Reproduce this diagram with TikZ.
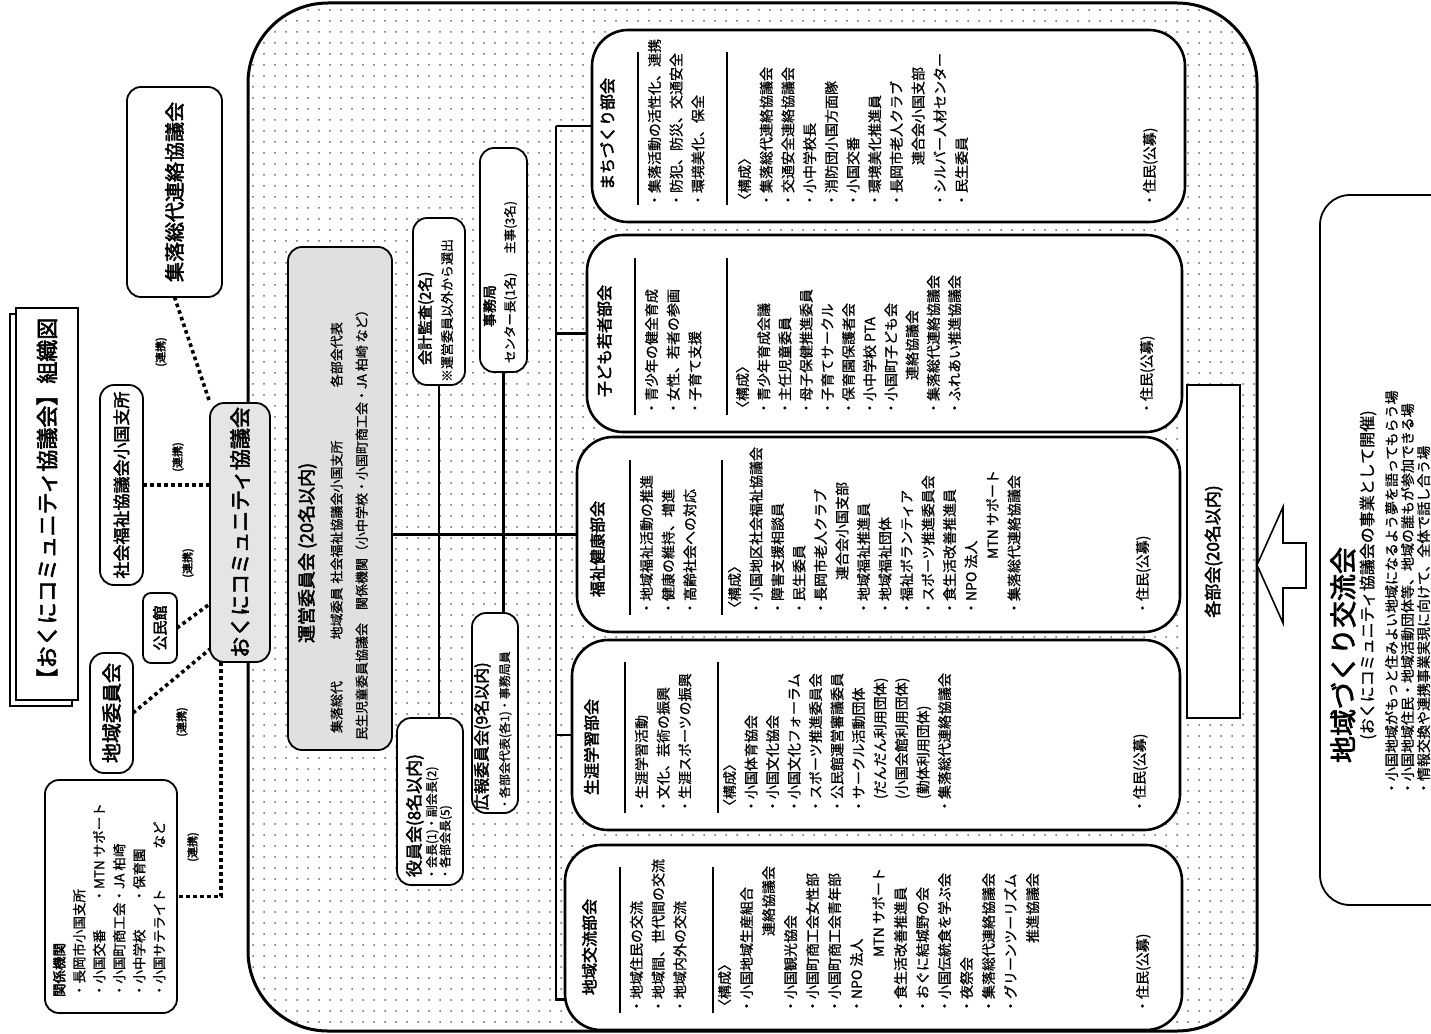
\documentclass[tikz,border=0pt]{standalone}
\usepackage{fontspec}
\setmainfont[FakeBold=0.9]{Noto Sans CJK JP}
\newfontfamily\heavy[FakeBold=2.6]{Noto Sans CJK JP}
\usetikzlibrary{patterns.meta,calc}

\newcommand{\bodyfont}{\fontsize{14}{21.7}\selectfont}
\tikzstyle{box}=[draw, line width=1.8pt, rounded corners=14pt, fill=white, inner sep=0, outer sep=0]
\tikzstyle{bukai}=[box, line width=2.6pt, rounded corners=36pt]
\tikzstyle{vtext}=[rotate=90, inner sep=0, outer sep=0, align=left, anchor=north west]
\tikzstyle{body}=[vtext, font=\bodyfont]
\tikzstyle{butitle}=[vtext, font=\fontsize{16}{20}\heavy]
\tikzstyle{vbox}=[box, rotate=90, align=center, font=\fontsize{20}{24}\heavy]
\tikzstyle{rlabel}=[vtext, anchor=center, font=\fontsize{11}{13}\heavy]
\tikzstyle{note}=[vtext, font=\fontsize{13}{15}\selectfont]
\tikzstyle{renkei}=[line width=3.6pt, dash pattern=on 3.6pt off 3.4pt]
\tikzstyle{tree}=[line width=2.4pt]
\tikzstyle{sepline}=[line width=1.4pt]

\begin{document}
\begin{tikzpicture}[x=1pt, y=-1pt]
\useasboundingbox (0,0) rectangle (1431,1033);
\fill[white] (0,0) rectangle (1431,1033);

% community area
\draw[line width=3pt, rounded corners=80pt, pattern={Dots[distance=11pt, radius=1pt]}, pattern color=black!60] (248,3) rectangle (1257,1031);

% title
\draw[line width=1.6pt, fill=white] (10,314) rectangle (72,706);
\node[box, rounded corners=0, minimum width=62pt, minimum height=392pt] (titlebox) at (47,504) {};
\node[vtext, anchor=center, font=\fontsize{22}{26}\heavy] (titletext) at (titlebox.center) {【おくにコミュニティ協議会】組織図};

% partners
\node[vbox, minimum width=210pt, minimum height=95pt] (shuraku) at (174.5,192) {集落総代連絡協議会};
\node[vbox, minimum width=200pt, minimum height=43pt, font=\fontsize{17}{20}\heavy] (shakai) at (121.5,485) {社会福祉協議会小国支所};
\node[vbox, minimum width=120pt, minimum height=43pt] (chiiki) at (111.5,713) {地域委員会};
\node[vbox, minimum width=70pt, minimum height=34pt, rounded corners=8pt, font=\fontsize{15}{18}\heavy] (kominkan) at (160,628) {公民館};
\node[vbox, minimum width=259pt, minimum height=60pt, fill=black!10, font=\fontsize{21}{24}\heavy] (okuni) at (240,532.5) {おくにコミュニティ協議会};
\node[box, minimum width=132pt, minimum height=233pt] (kankei) at (111,896.5) {};
\node[vtext, font=\fontsize{13.5}{20}\selectfont] (kankeiT) at (53,997) {{\heavy 関係機関}\\
・長岡市小国支所\\
\makebox[7em][l]{・小国交番}・MTN サポート\\
\makebox[7em][l]{・小国町商工会}・JA 柏崎\\
\makebox[7em][l]{・小中学校}・保育園\\
\makebox[13em][l]{・小国サテライト\hfill など}};

\foreach \x/\y [count=\i] in {161/352, 178/457, 188/563, 182/722, 193/847}
  \node[rlabel] (renkei\i) at (\x,\y) {(連携)};

\draw[renkei] (shuraku.west) -- (okuni.north east);
\draw[renkei] (shakai.south) -- (shakai.south -| okuni.north);
\draw[renkei] (kominkan.south) -- ($(okuni.north)!0.55!(okuni.north west)$);
\draw[renkei] (chiiki.south) -- ($(okuni.north)!0.9!(okuni.north west)$);
\draw[renkei] ($(okuni.west)!0.63!(okuni.north west)$) |- (kankei.east);

% steering committee and officers
\node[box, fill=black!12, minimum width=104pt, minimum height=503pt] (unei) at (340,498.5) {};
\node[vtext, font=\fontsize{18}{20}\heavy] (uneiT) at (298,643) {運営委員会 (20名以内)};
\node[vtext, font=\fontsize{13}{15}\selectfont] (uneiA) at (330.5,733) {\makebox[7.2em][l]{集落総代}\makebox[4.3em][l]{地域委員}\makebox[15.1em][l]{社会福祉協議会小国支所}各部会代表};
\node[vtext, font=\fontsize{13}{15}\selectfont] (uneiB) at (355.5,740) {民生児童委員協議会　関係機関（小中学校・小国町商工会・JA 柏崎 など）};

\node[box, minimum width=52pt, minimum height=167pt] (kaikei) at (439,301.5) {};
\node[vtext, font=\fontsize{15}{18}\heavy] (kaikeiT) at (418,365) {会計監査(2名)};
\node[note] (kaikeiN) at (441,382) {※運営委員以外から選出};

\node[box, minimum width=47pt, minimum height=224pt] (jimu) at (503.5,260) {};
\node[vtext, font=\fontsize{14}{16}\heavy] (jimuT) at (483,327) {事務局};
\node[vtext, font=\fontsize{12.5}{14}\selectfont] (jimuN) at (504,363) {センター長(1名)\hspace{1.5em}主事(3名)};

\node[box, minimum width=66pt, minimum height=167pt] (yakuin) at (430,801.5) {};
\node[vtext, font=\fontsize{17}{20}\heavy] (yakuinT) at (406,877) {役員会(8名以内)};
\node[vtext, font=\fontsize{12}{13.5}\selectfont] (yakuinN) at (426,880) {・会長(1)・副会長(2)\\・各部会長(5)};

\node[box, minimum width=46pt, minimum height=200pt] (kohou) at (495,713) {};
\node[vtext, font=\fontsize{16}{18}\heavy] (kohouT) at (474,810) {広報委員会(9名以内)};
\node[vtext, font=\fontsize{12}{13.5}\selectfont] (kohouN) at (499,810) {・各部会代表(各1)・事務局員};

% sections
\node[bukai, minimum width=593pt, minimum height=192pt] (machi) at (888.5,126) {};
\node[bukai, minimum width=595pt, minimum height=197pt] (kodomo) at (884.5,333.5) {};
\node[bukai, minimum width=603pt, minimum height=195pt] (fukushi) at (878.5,534.5) {};
\node[bukai, minimum width=608pt, minimum height=190pt] (shogai) at (876,735) {};
\node[bukai, minimum width=617pt, minimum height=185pt] (koryu) at (873.5,937.5) {};

\draw[tree] (kaikei.south) -- (kaikei.south |- yakuin.north);
\draw[tree] (jimu.south) -- (jimu.south |- kohou.north);
\draw[tree] (unei.east |- fukushi.west) -- (fukushi.west);
\draw[tree] (machi.west) -- ++(-36,0) coordinate (trunktop);
\draw[tree] (trunktop) |- ([yshift=-62pt]koryu.west);
\draw[tree] (kodomo.west) -- (kodomo.west -| trunktop);
\draw[tree] (shogai.west) -- (shogai.west -| trunktop);

% machizukuri
\node[butitle] (machiT) at (600,190) {まちづくり部会};
\draw[sepline] (638,52) -- (638,205);
\draw[sepline] (727,52) -- (727,205);
\node[body] (machiA) at (648,207) {・集落活動の活性化、連携\\・防犯、防災、交通安全\\・環境美化、保全};
\node[body] (machiB) at (738,207) {〈構成〉\\・集落総代連絡協議会\\・交通安全連絡協議会\\・小中学校長\\・消防団小国方面隊\\・小国交番\\・環境美化推進員\\・長岡市老人クラブ\\\hspace*{3em}連合会小国支部\\・シルバー人材センター\\・民生委員};
\node[body] (machiJ) at (1143,207) {・住民(公募)};

% kodomo wakamono
\node[butitle] (kodomoT) at (597,397) {子ども若者部会};
\draw[sepline] (635,258) -- (635,415);
\draw[sepline] (727,258) -- (727,415);
\node[body] (kodomoA) at (645,415) {・青少年の健全育成\\・女性、若者の参画\\・子育て支援};
\node[body, font=\fontsize{14}{21.2}\selectfont] (kodomoB) at (736,415) {〈構成〉\\・青少年育成会議\\・主任児童委員\\・母子保健推進委員\\・子育てサークル\\・保育園保護者会\\・小中学校 PTA\\・小国町子ども会\\\hspace*{2.5em}連絡協議会\\・集落総代連絡協議会\\・ふれあい推進協議会};
\node[body] (kodomoJ) at (1140,415) {・住民(公募)};

% fukushi kenko
\node[butitle] (fukushiT) at (590,597) {福祉健康部会};
\draw[sepline] (630,460) -- (630,615);
\draw[sepline] (722,460) -- (722,615);
\node[body] (fukushiA) at (640,615) {・地域福祉活動の推進\\・健康の維持、増進\\・高齢社会への対応};
\node[body, font=\fontsize{14}{21.5}\selectfont] (fukushiB) at (728,615) {〈構成〉\\・小国地区社会福祉協議会\\・障害支援相談員\\・民生委員\\・長岡市老人クラブ\\\hspace*{2.5em}連合会小国支部\\・地域福祉推進員\\・地域福祉団体\\・福祉ボランティア\\・スポーツ推進委員会\\・食生活改善推進員\\・NPO 法人\\\hspace*{4em}MTN サポート\\・集落総代連絡協議会};
\node[body] (fukushiJ) at (1136,615) {・住民(公募)};

% shogai gakushu
\node[butitle] (shogaiT) at (584,795) {生涯学習部会};
\draw[sepline] (625,662) -- (625,813);
\draw[sepline] (718,662) -- (718,813);
\node[body] (shogaiA) at (635,813) {・生涯学習活動\\・文化、芸術の振興\\・生涯スポーツの振興};
\node[body, font=\fontsize{14}{21.5}\selectfont] (shogaiB) at (723,813) {〈構成〉\\・小国体育協会\\・小国文化協会\\・小国文化フォーラム\\・スポーツ推進委員会\\・公民館運営審議委員\\・サークル活動団体\\\hspace*{1em}(だんだん利用団体)\\\hspace*{1em}(小国会館利用団体)\\\hspace*{1em}(勤体利用団体)\\・集落総代連絡協議会};
\node[body] (shogaiJ) at (1133,813) {・住民(公募)};

% chiiki koryu
\node[butitle] (koryuT) at (582,995) {地域交流部会};
\draw[sepline] (620,867) -- (620,1013);
\draw[sepline] (713,867) -- (713,1013);
\node[body] (koryuA) at (630,1013) {・地域住民の交流\\・地域間、世代間の交流\\・地域内外の交流};
\node[body, font=\fontsize{14}{22}\selectfont] (koryuB) at (718,1013) {〈構成〉\\・小国地域生産組合\\\hspace*{5.5em}連絡協議会\\・小国観光協会\\・小国町商工会女性部\\・小国町商工会青年部\\・NPO 法人\\\hspace*{4em}MTN サポート\\・食生活改善推進員\\・おぐに結城野の会\\・小国伝統食を学ぶ会\\・夜祭会\\・集落総代連絡協議会\\・グリーンツーリズム\\\hspace*{5em}推進協議会};
\node[body] (koryuJ) at (1136,1013) {・住民(公募)};

% all sections, exchange meeting
\node[vbox, rounded corners=0, line width=1.2pt, minimum width=333pt, minimum height=53pt, font=\fontsize{17}{20}\heavy] (kakubukai) at (1213.5,551.5) {各部会(20名以内)};
\draw[line width=1.6pt, fill=white] (1257,565) -- (1283,507) -- (1283,543) -- (1306,543) -- (1306,588) -- (1283,588) -- (1283,623) -- cycle;
\node[box, rounded corners=30pt, minimum width=160pt, minimum height=710pt] (koryukai) at (1400,550) {};
\node[vtext, anchor=center, font=\fontsize{27}{30}\heavy] (koryukaiT) at (1343,655) {地域づくり交流会};
\node[vtext, anchor=center, font=\fontsize{16}{18}\selectfont] (koryukaiS) at (1368,575) {(おくにコミュニティ協議会の事業として開催)};
\node[vtext, font=\fontsize{14}{16}\selectfont] (koryukaiB) at (1385,795) {・小国地域がもっと住みよい地域になるよう夢を語ってもらう場\\・小国地域住民・地域活動団体等、地域の誰もが参加できる場\\・情報交換や連携事業実現に向けて、全体で話し合う場};
\end{tikzpicture}
\end{document}
